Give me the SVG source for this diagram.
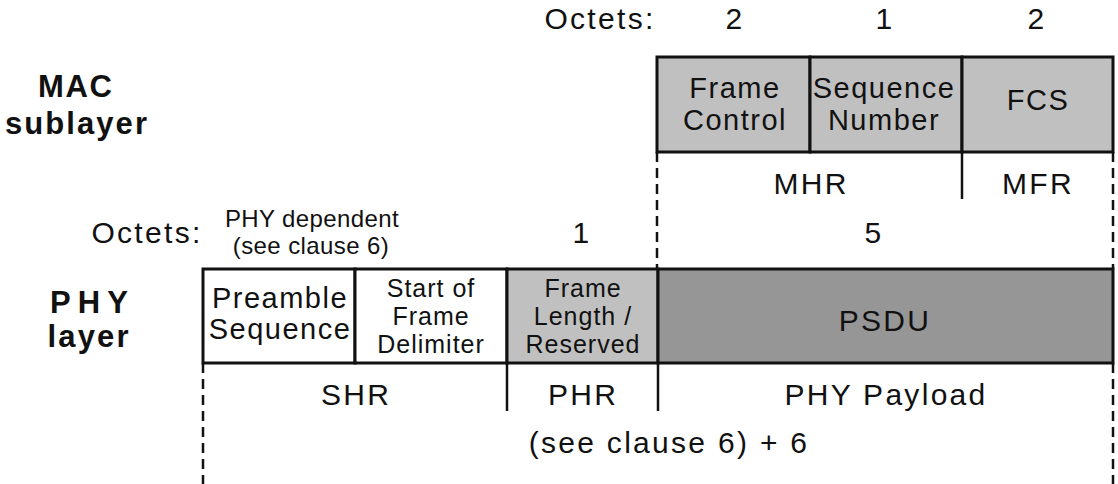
<svg xmlns="http://www.w3.org/2000/svg" width="1118" height="484" viewBox="0 0 1118 484">
<style>
text{font-family:"Liberation Sans",Arial,sans-serif;fill:#111;text-anchor:middle}
.l{font-size:30px;letter-spacing:2.3px}
.m{font-size:29px;letter-spacing:1.5px}
.s{font-size:25px;letter-spacing:1px}
.d{font-size:24px;letter-spacing:0.4px}
.b{font-size:31px;font-weight:bold}
.box{stroke:#111;stroke-width:3}
.solid{stroke:#111;stroke-width:2.5;fill:none}
.dash{stroke:#111;stroke-width:2.5;fill:none;stroke-dasharray:10 6}
</style>
<rect width="1118" height="484" fill="#fff"/>
<g id="labels">
<text class="l" x="600" y="29">Octets:</text>
<text class="l" x="735" y="29">2</text>
<text class="l" x="885" y="29">1</text>
<text class="l" x="1037" y="29">2</text>
<text class="b" x="75" y="97" textLength="74" lengthAdjust="spacing">MAC</text>
<text class="b" x="76" y="134" textLength="142" lengthAdjust="spacing">sublayer</text>
<text class="l" x="147" y="243">Octets:</text>
<text class="d" x="312" y="227">PHY dependent</text>
<text class="d" x="311" y="254">(see clause 6)</text>
<text class="l" x="582" y="243">1</text>
<text class="l" x="874" y="243">5</text>
<text class="b" x="89" y="313" textLength="78" lengthAdjust="spacing">PHY</text>
<text class="b" x="88" y="347" textLength="81" lengthAdjust="spacing">layer</text>
<text class="l" x="669" y="453">(see clause 6) + 6</text>
</g>
<g id="frame-control"><rect class="box" x="657" y="57" width="153" height="95" fill="#c0c0c0"/><text class="m" x="735" y="98">Frame</text><text class="m" x="735" y="130">Control</text></g>
<g id="sequence-number"><rect class="box" x="810" y="57" width="152" height="95" fill="#c0c0c0"/><text class="m" x="884" y="98">Sequence</text><text class="m" x="884" y="130">Number</text></g>
<g id="fcs"><rect class="box" x="962" y="57" width="151" height="95" fill="#c0c0c0"/><text class="m" x="1038" y="110">FCS</text></g>
<g id="mhr"><text class="l" x="811" y="194">MHR</text></g>
<g id="mfr"><text class="l" x="1038" y="194">MFR</text></g>
<g id="preamble"><rect class="box" x="203" y="269" width="152" height="94" fill="#fff"/><text class="m" x="280" y="308">Preamble</text><text class="m" x="280" y="339">Sequence</text></g>
<g id="sfd"><rect class="box" x="355" y="269" width="152" height="94" fill="#fff"/><text class="s" x="431" y="297">Start of</text><text class="s" x="431" y="325">Frame</text><text class="s" x="431" y="353">Delimiter</text></g>
<g id="frame-length"><rect class="box" x="507" y="269" width="151" height="94" fill="#c0c0c0"/><text class="s" x="583" y="297">Frame</text><text class="s" x="583" y="325">Length /</text><text class="s" x="583" y="353">Reserved</text></g>
<g id="psdu"><rect class="box" x="658" y="269" width="455" height="94" fill="#969696"/><text class="l" x="885" y="331">PSDU</text></g>
<g id="shr"><text class="l" x="356" y="405">SHR</text></g>
<g id="phr"><text class="l" x="583" y="405">PHR</text></g>
<g id="phy-payload"><text class="l" x="886" y="405">PHY Payload</text></g>
<g id="connectors">
<line class="dash" x1="657" y1="152" x2="657" y2="269"/>
<line class="dash" x1="1113" y1="152" x2="1113" y2="269"/>
<line class="solid" x1="962" y1="152" x2="962" y2="199"/>
<line class="dash" x1="203" y1="363" x2="203" y2="484"/>
<line class="dash" x1="1113" y1="363" x2="1113" y2="484"/>
<line class="solid" x1="507" y1="363" x2="507" y2="411"/>
<line class="solid" x1="658" y1="363" x2="658" y2="411"/>
</g>
</svg>
